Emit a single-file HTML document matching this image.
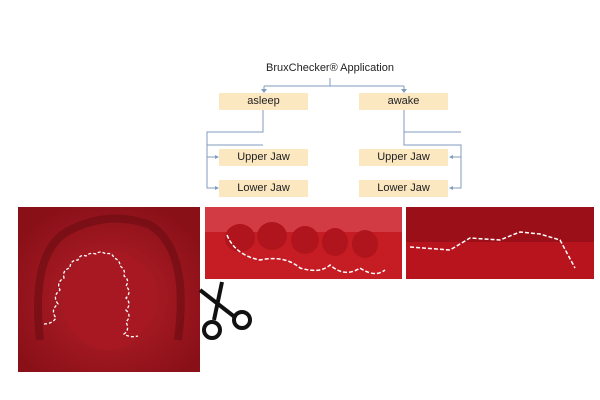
<!DOCTYPE html>
<html><head><style>
body{margin:0;width:600px;height:400px;background:#fff;position:relative;overflow:hidden;font-family:"Liberation Sans",sans-serif}
.b{position:absolute;background:#fbe7c0;width:89px;height:17px;font-size:11px;line-height:17px;text-align:center;color:#222}
</style></head><body>
<div style="position:absolute;left:250px;top:62px;width:160px;text-align:center;font-size:11px;color:#222">BruxChecker® Application</div>
<div class="b" style="left:219px;top:93px">asleep</div>
<div class="b" style="left:359px;top:93px">awake</div>
<div class="b" style="left:219px;top:149px">Upper Jaw</div>
<div class="b" style="left:219px;top:180px">Lower Jaw</div>
<div class="b" style="left:359px;top:149px">Upper Jaw</div>
<div class="b" style="left:359px;top:180px">Lower Jaw</div>
<svg width="600" height="400" style="position:absolute;left:0;top:0">
<defs>
<radialGradient id="g1" cx="50%" cy="55%" r="60%"><stop offset="0" stop-color="#b8202a"/><stop offset="1" stop-color="#8a1018"/></radialGradient>
</defs>
<g stroke="#7f9bbf" stroke-width="1" fill="none">
<path d="M330 78V86M264 86H404M264 86V92M404 86V92"/>
<path d="M263 110V132H207V188H216M207 145H263M207 157H216"/>
<path d="M404 110V145H461V188H452M404 132H461M461 157H452"/>
</g>
<g fill="#7f9bbf"><path d="M261 89l3 4 3-4z"/><path d="M401 89l3 4 3-4z"/><path d="M215 155l4 2-4 2z"/><path d="M215 186l4 2-4 2z"/><path d="M453 155l-4 2 4 2z"/><path d="M453 186l-4 2 4 2z"/></g>
<rect x="18" y="207" width="182" height="165" fill="url(#g1)"/>
<path d="M40 340 Q30 250 70 230 Q110 210 150 225 Q190 250 178 340" fill="none" stroke="#6a0c12" stroke-width="8" opacity=".6"/>
<ellipse cx="108" cy="300" rx="45" ry="50" fill="#a81822"/>
<path d="M44 324 q8 0 12-6 q-6-8 2-14 q-6-8 2-14 q-4-8 4-12 q-2-8 6-10 q0-8 8-8 q2-6 8-4 q4-4 10-2 q4-4 10 0 q6-2 8 4 q6 2 6 8 q6 4 4 10 q6 4 2 10 q6 6 0 12 q6 6 0 12 q6 6 0 12 q4 8 -2 12 q6 4 14 2" fill="none" stroke="#fff" stroke-width="1.3" stroke-dasharray="3 2"/>
<rect x="205" y="207" width="197" height="72" fill="#c61c24"/>
<rect x="205" y="207" width="197" height="25" fill="#d23a44"/>
<g fill="#b0141c"><ellipse cx="240" cy="238" rx="15" ry="14"/><ellipse cx="272" cy="236" rx="15" ry="14"/><ellipse cx="305" cy="240" rx="14" ry="14"/><ellipse cx="335" cy="242" rx="13" ry="14"/><ellipse cx="365" cy="244" rx="13" ry="14"/></g>
<path d="M227 235 Q235 255 260 260 Q285 255 300 268 Q320 274 330 265 Q345 278 360 268 Q375 278 385 270" fill="none" stroke="#fff" stroke-width="1.5" stroke-dasharray="4 2"/>
<rect x="406" y="207" width="188" height="72" fill="#b8141e"/>
<rect x="406" y="207" width="188" height="35" fill="#9a0f18"/>
<path d="M410 247 L450 250 L470 238 L500 240 L520 232 L540 234 L560 240 L575 268" fill="none" stroke="#fff" stroke-width="1.5" stroke-dasharray="4 2"/>
<g stroke="#111" stroke-width="4" fill="none"><path d="M200 290 L236 318M222 282 L214 320"/><circle cx="242" cy="320" r="8"/><circle cx="212" cy="330" r="8"/></g>
</svg>
</body></html>
